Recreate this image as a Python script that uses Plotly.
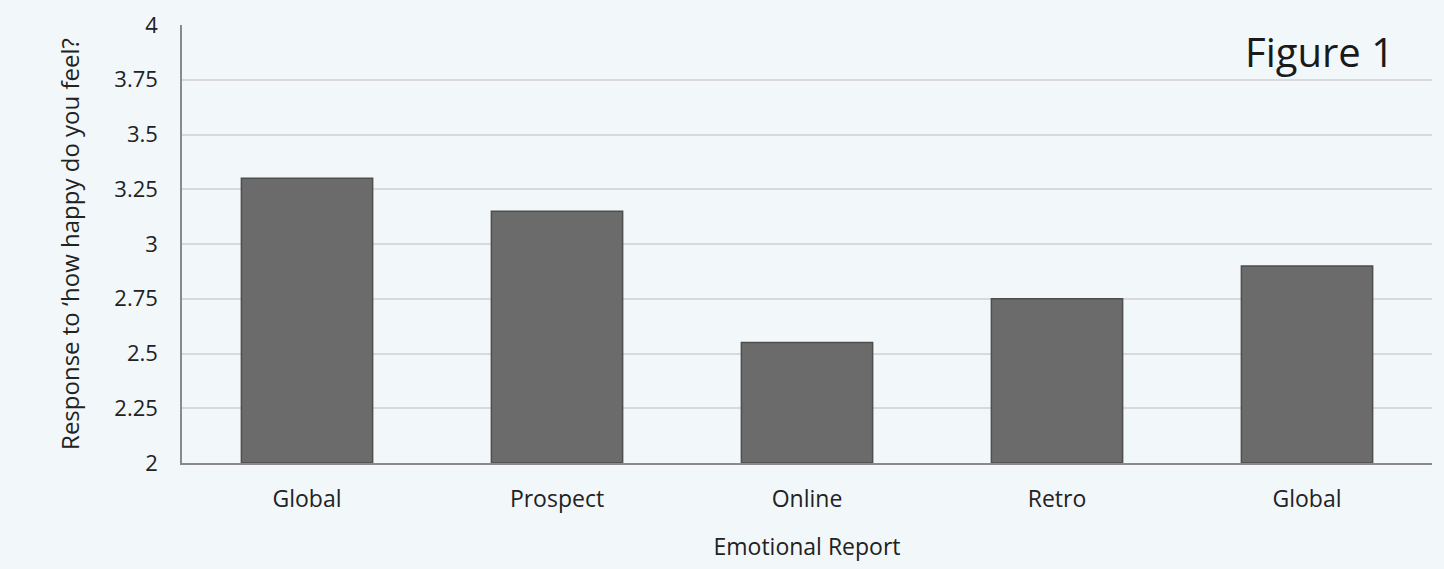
import plotly.graph_objects as go

categories = ["Global", "Prospect", "Online", "Retro", "Global "]
values = [3.3, 3.15, 2.55, 2.75, 2.9]
tick_vals = [2, 2.25, 2.5, 2.75, 3, 3.25, 3.5, 3.75, 4]
tick_text = ["2", "2.25", "2.5", "2.75", "3", "3.25", "3.5", "3.75", "4"]

fig = go.Figure()
fig.add_trace(go.Bar(
    x=categories, y=[v - 2 for v in values], base=2,
    marker=dict(color="#6b6b6b", line=dict(color="#4e4e4e", width=1.5)),
    width=0.525,
))

font_family = "Open Sans, Lato, sans-serif"
fig.update_layout(
    width=1444, height=569,
    margin=dict(l=182, r=12, t=25, b=106),
    paper_bgcolor="#f2f7fa", plot_bgcolor="#f2f7fa",
    showlegend=False,
    font=dict(family=font_family, color="#222222", size=23),
    xaxis=dict(
        type="category", showgrid=False, showline=True, linecolor="#8a8a8a", linewidth=1.5,
        tickfont=dict(size=23), ticks="", ticklabelstandoff=15, automargin=False,
        title=dict(text="Emotional Report", font=dict(size=23), standoff=26),
        tickmode="array", tickvals=categories, ticktext=[c.strip() for c in categories],
    ),
    yaxis=dict(
        range=[2, 4], tickvals=tick_vals, ticktext=tick_text,
        showgrid=True, gridcolor="#d9d9d9", gridwidth=1.5,
        showline=True, linecolor="#8a8a8a", linewidth=1.5, automargin=False,
        ticks="", tickfont=dict(size=22), zeroline=False, ticklabelstandoff=18,
        title=dict(text="Response to ‘how happy do you feel?", font=dict(size=24), standoff=28),
    ),
    annotations=[dict(
        text="Figure 1", x=0.91, y=0.94, xref="paper", yref="paper",
        showarrow=False, font=dict(family="Open Sans, sans-serif", size=40, color="#1a1a1a"),
        xanchor="center", yanchor="middle",
    )],
)

fig.write_html("out.html")
